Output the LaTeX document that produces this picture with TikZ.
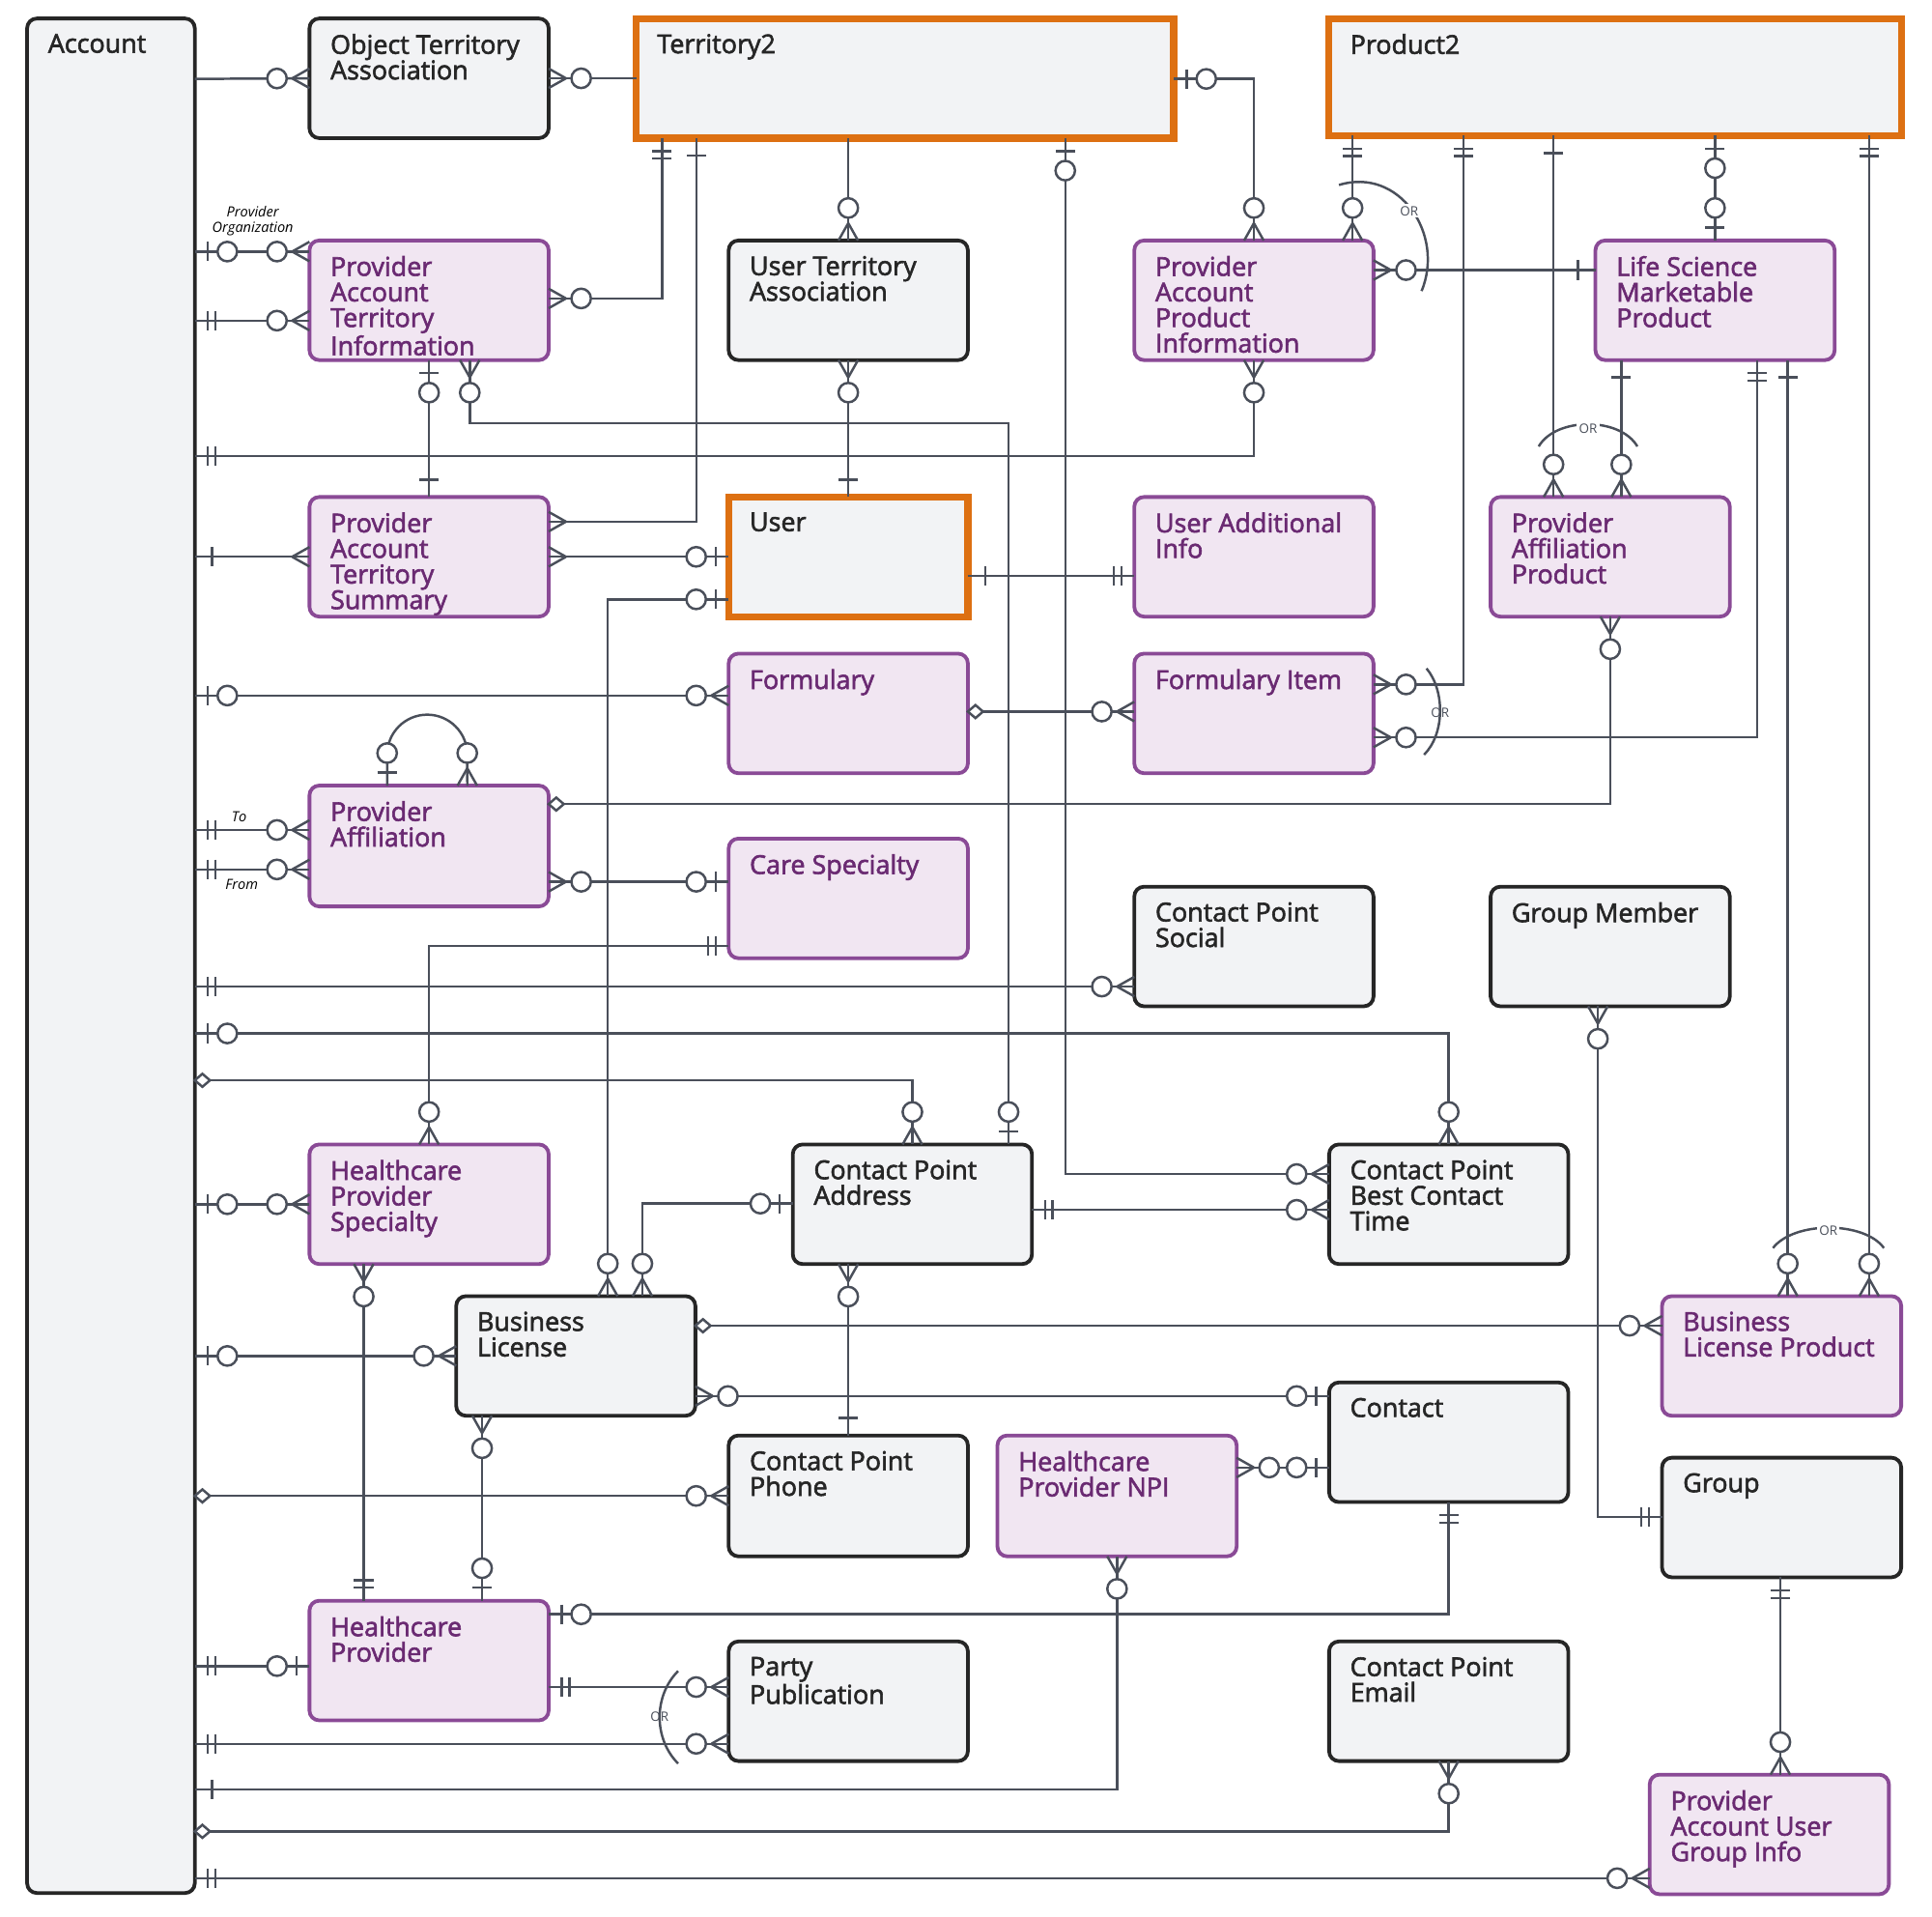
\documentclass[tikz,border=0pt]{standalone}
\usepackage{fontspec}
\setmainfont{Open Sans}
\newfontfamily\entfont{Open Sans}[FakeBold=2.2]
\usetikzlibrary{arrows.meta}

\definecolor{lnk}{HTML}{4A4F5A}
\definecolor{org}{HTML}{DD7012}
\definecolor{pur}{HTML}{8A4A96}
\definecolor{purfill}{HTML}{F1E6F2}
\definecolor{purtext}{HTML}{6A2A72}
\definecolor{gryfill}{HTML}{F2F3F5}

% crow's foot end markers
\newcommand\crowpath{\pgfpathmoveto{\pgfpoint{-8pt}{0pt}}\pgfpathlineto{\pgfpoint{0pt}{4.5pt}}%
  \pgfpathmoveto{\pgfpoint{-8pt}{0pt}}\pgfpathlineto{\pgfpoint{0pt}{-4.5pt}}}
\newcommand\barat[1]{\pgfpathmoveto{\pgfpoint{#1}{-4.5pt}}\pgfpathlineto{\pgfpoint{#1}{4.5pt}}}
\newcommand\ringat[1]{\pgfpathcircle{\pgfpoint{#1}{0pt}}{4.5pt}}
\newcommand\tipsetup{\pgfarrowssettipend{0pt}\pgfarrowssetlineend{0pt}\pgfarrowssetbackend{-20pt}}
\pgfdeclarearrow{name=zm, setup code={\tipsetup}, drawing code={\pgfsetlinewidth{1.1pt}\pgfsetfillcolor{white}%
  \crowpath\pgfusepathqstroke\ringat{-15pt}\pgfusepathqfillstroke}}
\pgfdeclarearrow{name=zo, setup code={\tipsetup}, drawing code={\pgfsetlinewidth{1.1pt}\pgfsetfillcolor{white}%
  \barat{-6pt}\pgfusepathqstroke\ringat{-15pt}\pgfusepathqfillstroke}}
\pgfdeclarearrow{name=oo, setup code={\tipsetup}, drawing code={\pgfsetlinewidth{1.1pt}%
  \barat{-6pt}\barat{-9.5pt}\pgfusepathqstroke}}
\pgfdeclarearrow{name=one, setup code={\tipsetup}, drawing code={\pgfsetlinewidth{1.1pt}%
  \barat{-8pt}\pgfusepathqstroke}}
\pgfdeclarearrow{name=many, setup code={\tipsetup}, drawing code={\pgfsetlinewidth{1.1pt}%
  \crowpath\pgfusepathqstroke}}
\pgfdeclarearrow{name=dia, setup code={\tipsetup}, drawing code={\pgfsetlinewidth{1.1pt}\pgfsetfillcolor{white}%
  \pgfpathmoveto{\pgfpoint{0pt}{0pt}}\pgfpathlineto{\pgfpoint{-3.5pt}{3pt}}\pgfpathlineto{\pgfpoint{-7pt}{0pt}}%
  \pgfpathlineto{\pgfpoint{-3.5pt}{-3pt}}\pgfpathclose\pgfusepathqfillstroke}}

\tikzset{
  x=0.02cm, y=-0.02cm,
  box/.style={rectangle, rounded corners=4.5pt, outer sep=0pt, inner sep=0pt},
  gry/.style={box, draw=black!85, line width=1.7pt, fill=gryfill},
  pur/.style={box, draw=pur, line width=1.7pt, fill=purfill},
  org/.style={box, draw=org, line width=3.2pt, fill=gryfill, rounded corners=0pt},
  gryT/.style={anchor=north west, inner sep=0pt, align=left, text=black!85,
    font=\entfont\fontsize{12}{11.8}\selectfont},
  purT/.style={gryT, text=purtext},
  orgT/.style={gryT},
  lnk/.style={draw=lnk, line width=1.1pt},
  note/.style={font=\itshape\fontsize{6.5}{7}\selectfont, inner sep=0pt, align=center},
  ortag/.style={font=\fontsize{6}{7}\selectfont, inner sep=1pt, text=lnk},
}
% name, style, x, y, w, h, text
\newcommand\entity[7]{%
  \node[#2, minimum width=#5*0.02cm, minimum height=#6*0.02cm] (#1) at (#3+#5/2,#4+#6/2) {};
  \node[#2T] at ([shift={(9.5pt,-7pt)}]#1.north west) {#7};}

\begin{document}
\begin{tikzpicture}
\useasboundingbox (0,0) rectangle (1567,1554);

\entity{Account}{gry}{22}{15}{136}{1520}{Account}
\entity{OTA}{gry}{251}{15}{194}{97}{Object Territory\\Association}
\entity{T2}{org}{516}{15}{436}{97}{Territory2}
\entity{P2}{org}{1078}{15}{464}{95}{Product2}
\entity{PATI}{pur}{251}{195}{194}{97}{Provider\\Account\\Territory\\Information}
\entity{UTA}{gry}{591}{195}{194}{97}{User Territory\\Association}
\entity{PAPI}{pur}{920}{195}{194}{97}{Provider\\Account\\Product\\Information}
\entity{LSMP}{pur}{1294}{195}{194}{97}{Life Science\\Marketable\\Product}
\entity{PATS}{pur}{251}{403}{194}{97}{Provider\\Account\\Territory\\Summary}
\entity{User}{org}{591}{403}{194}{97}{User}
\entity{UAI}{pur}{920}{403}{194}{97}{User Additional\\Info}
\entity{PAP}{pur}{1209}{403}{194}{97}{Provider\\Affiliation\\Product}
\entity{Form}{pur}{591}{530}{194}{97}{Formulary}
\entity{FI}{pur}{920}{530}{194}{97}{Formulary Item}
\entity{PA}{pur}{251}{637}{194}{98}{Provider\\Affiliation}
\entity{CS}{pur}{591}{680}{194}{97}{Care Specialty}
\entity{CPS}{gry}{920}{719}{194}{97}{Contact Point\\Social}
\entity{GM}{gry}{1209}{719}{194}{97}{Group Member}
\entity{HPS}{pur}{251}{928}{194}{97}{Healthcare\\Provider\\Specialty}
\entity{CPA}{gry}{643}{928}{194}{97}{Contact Point\\Address}
\entity{CPBCT}{gry}{1078}{928}{194}{97}{Contact Point\\Best Contact\\Time}
\entity{BL}{gry}{370}{1051}{194}{97}{Business\\License}
\entity{BLP}{pur}{1348}{1051}{194}{97}{Business\\License Product}
\entity{Con}{gry}{1078}{1121}{194}{97}{Contact}
\entity{CPP}{gry}{591}{1164}{194}{98}{Contact Point\\Phone}
\entity{NPI}{pur}{809}{1164}{194}{98}{Healthcare\\Provider NPI}
\entity{Grp}{gry}{1348}{1182}{194}{97}{Group}
\entity{HP}{pur}{251}{1298}{194}{97}{Healthcare\\Provider}
\entity{PP}{gry}{591}{1331}{194}{97}{Party\\Publication}
\entity{CPE}{gry}{1078}{1331}{194}{97}{Contact Point\\Email}
\entity{PAUGI}{pur}{1338}{1439}{194}{97}{Provider\\Account User\\Group Info}

\begin{scope}[lnk]
\draw[-{zm}] (Account.east |- 0,64) -- (OTA.west);
\draw[{zm}-] (OTA.east) -- (T2.west |- OTA);
\draw[{zo}-{zm}] (T2.east |- 0,64) -| (PAPI.north);
\draw[-{zm}] (T2.south -| UTA.north) -- (UTA.north);
\draw[{oo}-{zm}] (T2.south -| 537,0) |- (PATI.east |- 0,242);
\draw[{one}-{many}] (T2.south -| 565,0) |- (PATS.east |- 0,423);
\draw[{zo}-{zm}] (T2.south -| 864,0) |- (CPBCT.west |- 0,952);
\draw[{oo}-{zm}] (P2.south -| 1097,0) -- (PAPI.north -| 1097,0);
\draw[{oo}-{zm}] (P2.south -| 1187,0) |- (FI.east |- 0,555);
\draw[{one}-{zm}] (P2.south -| 1260,0) -- (PAP.north -| 1260,0);
\draw[{zo}-{zo}] (P2.south -| LSMP.north) -- (LSMP.north);
\draw[{oo}-{zm}] (P2.south -| 1516,0) -- (BLP.north -| 1516,0);
\draw[{zm}-{one}] (PAPI.east |- 0,219) -- (LSMP.west |- 0,219);
\draw[{zo}-{zm}] (Account.east |- 0,204) -- (PATI.west |- 0,204);
\draw[{oo}-{zm}] (Account.east |- 0,260) -- (PATI.west |- 0,260);
\draw[{zo}-{one}] (PATI.south) -- (PATS.north);
\draw[{zm}-{zo}] (PATI.south -| 381,0) |- (818,343) -- (CPA.north -| 818,0);
\draw[{zm}-{one}] (UTA.south) -- (User.north);
\draw[{oo}-{zm}] (Account.east |- 0,370) -| (PAPI.south);
\draw[{one}-{many}] (Account.east |- PATS) -- (PATS.west);
\draw[{many}-{zo}] (PATS.east) -- (User.west |- PATS);
\draw[{zo}-{zm}] (User.west |- 0,486) -| (BL.north -| 493,0);
\draw[{one}-{oo}] (User.east |- 0,467) -- (UAI.west |- 0,467);
\draw[{one}-{zm}] (LSMP.south -| 1315,0) -- (PAP.north -| 1315,0);
\draw[{oo}-{zm}] (LSMP.south -| 1425,0) |- (FI.east |- 0,598);
\draw[{one}-{zm}] (LSMP.south -| 1450,0) -- (BLP.north -| 1450,0);
\draw[{zo}-{zm}] (Account.east |- 0,564) -- (Form.west |- 0,564);
\draw[{dia}-{zm}] (Form.east |- 0,577) -- (FI.west |- 0,577);
\draw[{zm}-{dia}] (PAP.south) |- (PA.east |- 0,652);
\draw[{zo}-{zm}] (PA.north -| 314,0) -- ++(0,-25)
  arc[start angle=180, end angle=0, radius=0.65cm] -- (PA.north -| 379,0);
\draw[{oo}-{zm}] (Account.east |- 0,673) -- (PA.west |- 0,673);
\draw[{oo}-{zm}] (Account.east |- 0,705) -- (PA.west |- 0,705);
\draw[{zm}-{zo}] (PA.east |- 0,715) -- (CS.west |- 0,715);
\draw[{oo}-{zm}] (CS.west |- 0,767) -| (HPS.north);
\draw[{oo}-{zm}] (Account.east |- 0,800) -- (CPS.west |- 0,800);
\draw[{zo}-{zm}] (Account.east |- 0,838) -| (CPBCT.north);
\draw[{dia}-{zm}] (Account.east |- 0,876) -| (CPA.north);
\draw[{oo}-{zm}] (CPA.east |- 0,981) -- (CPBCT.west |- 0,981);
\draw[{zo}-{zm}] (Account.east |- HPS) -- (HPS.west);
\draw[{zm}-{oo}] (HPS.south -| 295,0) -- (HP.north -| 295,0);
\draw[{zo}-{zm}] (CPA.west |- 0,976) -| (BL.north -| 521,0);
\draw[{zm}-{one}] (CPA.south -| CPP.north) -- (CPP.north);
\draw[{zo}-{zm}] (Account.east |- BL) -- (BL.west);
\draw[{dia}-{zm}] (BL.east |- 0,1075) -- (BLP.west |- 0,1075);
\draw[{zm}-{zo}] (BL.east |- 0,1132) -- (Con.west |- 0,1132);
\draw[{zm}-{zo}] (BL.south -| 391,0) -- (HP.north -| 391,0);
\draw[{dia}-{zm}] (Account.east |- CPP) -- (CPP.west);
\draw[{zm}-{zo}] (NPI.east |- 0,1190) -- (Con.west |- 0,1190);
\draw[{zm}-{oo}] (GM.south -| 1296,0) |- (Grp.west |- 0,1230);
\draw[{oo}-{zo}] (Account.east |- 0,1351) -- (HP.west |- 0,1351);
\draw[{zo}-{oo}] (HP.east |- 0,1309) -| (Con.south);
\draw[{oo}-{zm}] (HP.east |- 0,1368) -- (PP.west |- 0,1368);
\draw[{oo}-{zm}] (Account.east |- 0,1414) -- (PP.west |- 0,1414);
\draw[{one}-{zm}] (Account.east |- 0,1451) -| (NPI.south);
\draw[{dia}-{zm}] (Account.east |- 0,1485) -| (CPE.south);
\draw[{oo}-{zm}] (Account.east |- 0,1523) -- (PAUGI.west |- 0,1523);
\draw[{oo}-{zm}] (Grp.south -| 1444,0) -- (PAUGI.north -| 1444,0);
% OR groupings
\draw (1086,150) .. controls (1135,135) and (1172,190) .. (1153,236);
\draw (1157,542) .. controls (1172,560) and (1172,595) .. (1155,612);
\draw (1248,362) .. controls (1262,338) and (1314,338) .. (1328,362);
\draw (1438,1012) .. controls (1455,990) and (1512,990) .. (1528,1012);
\draw (550,1355) .. controls (530,1375) and (530,1410) .. (550,1430);
\end{scope}
\node[ortag, fill=white] at (1143,171) {OR};
\node[ortag] at (1168,578) {OR};
\node[ortag, fill=white] at (1288,348) {OR};
\node[ortag, fill=white] at (1483,998) {OR};
\node[ortag] at (535,1392) {OR};
\node[note] at (205,179) {Provider\\Organization};
\node[note] at (194,662) {To};
\node[note] at (196,717) {From};
\end{tikzpicture}
\end{document}
